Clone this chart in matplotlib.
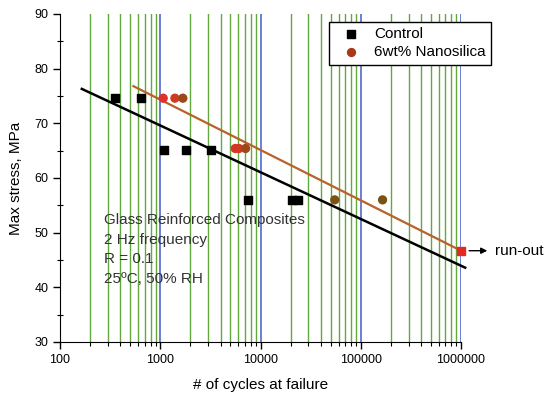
import numpy as np
import matplotlib
matplotlib.use('Agg')
import matplotlib.pyplot as plt
from matplotlib.ticker import FixedLocator, FixedFormatter, MultipleLocator

plt.rcParams['font.family'] = ['Liberation Sans', 'DejaVu Sans']

# S-N data
control_cycles = [350, 640, 1100, 1800, 3200, 7500, 20500, 23500]
control_stress = [74.6, 74.6, 65.2, 65.2, 65.2, 56.0, 56.0, 56.0]

nano_cycles = [1070, 1400, 1680, 5600, 6100, 7100, 55000, 165000]
nano_stress = [74.6, 74.6, 74.6, 65.4, 65.4, 65.4, 56.0, 56.0]

runout_cycles = [1000000]
runout_stress = [46.7]

# fitted trend lines (end points)
control_fit_x = [165, 1100000]
control_fit_y = [76.3, 43.6]
nano_fit_x = [540, 1000000]
nano_fit_y = [76.8, 46.7]

x_ticks = [100, 1000, 10000, 100000, 1000000]
x_tick_labels = ['100', '1000', '10000', '100000', '1000000']
y_ticks = [30, 40, 50, 60, 70, 80, 90]

notes = ['Glass Reinforced Composites', '2 Hz frequency', 'R = 0.1',
         '25\u00baC, 50% RH']

fig = plt.figure(figsize=(5.5, 3.97), dpi=100)
ax = fig.add_axes([60 / 550, 1 - 342 / 397, 401 / 550, 328 / 397])
ax.set_xscale('log')
ax.set_xlim(100, 1000000)
ax.set_ylim(30, 90)

# vertical grid: green for minor, blue for decades
for dec in [100, 1000, 10000, 100000]:
    for m in range(2, 10):
        ax.axvline(dec * m, color='#62a83e', lw=1.0, zorder=1)
for dec in [1000, 10000, 100000, 1000000]:
    ax.axvline(dec, color='#5468cc', lw=1.2, zorder=1)

# trend lines
ax.plot(control_fit_x, control_fit_y, color='black', lw=1.8, zorder=3,
        clip_on=False)
ax.plot(nano_fit_x, nano_fit_y, color='#b8622a', lw=1.6, zorder=3,
        clip_on=False)

# points
nano_colors = ['#e0302a', '#d03a20', '#9a4a18', '#e0302a', '#d03a20',
               '#9a4a18', '#7a5214', '#7a5214']
ax.scatter(control_cycles, control_stress, marker='s', s=30, c='black',
           zorder=4, label='Control')
ax.scatter(nano_cycles, nano_stress, marker='o', s=32, c=nano_colors,
           zorder=4)
ax.scatter([], [], marker='o', s=32, c='#a83818', label='6wt% Nanosilica')
ax.scatter(runout_cycles, runout_stress, marker='s', s=40, c='#e02a22',
           zorder=5, clip_on=False)

# run-out arrow
ax.annotate('', xy=(1.95e6, runout_stress[0]),
            xytext=(1.13e6, runout_stress[0]),
            arrowprops=dict(arrowstyle='-|>', color='black', lw=1.0,
                            mutation_scale=9),
            annotation_clip=False)
ax.text(2.2e6, runout_stress[0], 'run-out', fontsize=11, va='center',
        ha='left', clip_on=False)

# test conditions
for i, t in enumerate(notes):
    ax.text(275, 52.3 - i * 3.6, t, fontsize=11, va='center', ha='left',
            color='#333333')

ax.xaxis.set_major_locator(FixedLocator(x_ticks))
ax.xaxis.set_major_formatter(FixedFormatter(x_tick_labels))
ax.yaxis.set_major_locator(FixedLocator(y_ticks))
ax.yaxis.set_minor_locator(MultipleLocator(5))
ax.tick_params(axis='both', which='major', labelsize=9, direction='out',
               length=5, width=1)
ax.tick_params(axis='x', which='minor', direction='out', length=3, width=0.8)
ax.tick_params(axis='y', which='minor', direction='inout', length=5,
               width=0.8)

ax.spines['top'].set_visible(False)
ax.spines['right'].set_visible(False)

ax.set_xlabel('# of cycles at failure', fontsize=11, labelpad=9)
ax.set_ylabel('Max stress, MPa', fontsize=11, labelpad=8)

leg = ax.legend(loc='upper left', bbox_to_anchor=(329 / 550, 1 - 22 / 397),
                bbox_transform=fig.transFigure, borderaxespad=0,
                fontsize=11, frameon=True, fancybox=False,
                handletextpad=0.45, borderpad=0.35, labelspacing=0.25,
                handlelength=2.15)
leg.get_frame().set_edgecolor('black')
leg.get_frame().set_linewidth(1.0)
leg.get_frame().set_alpha(1)

fig.savefig('out.png', dpi=100)
